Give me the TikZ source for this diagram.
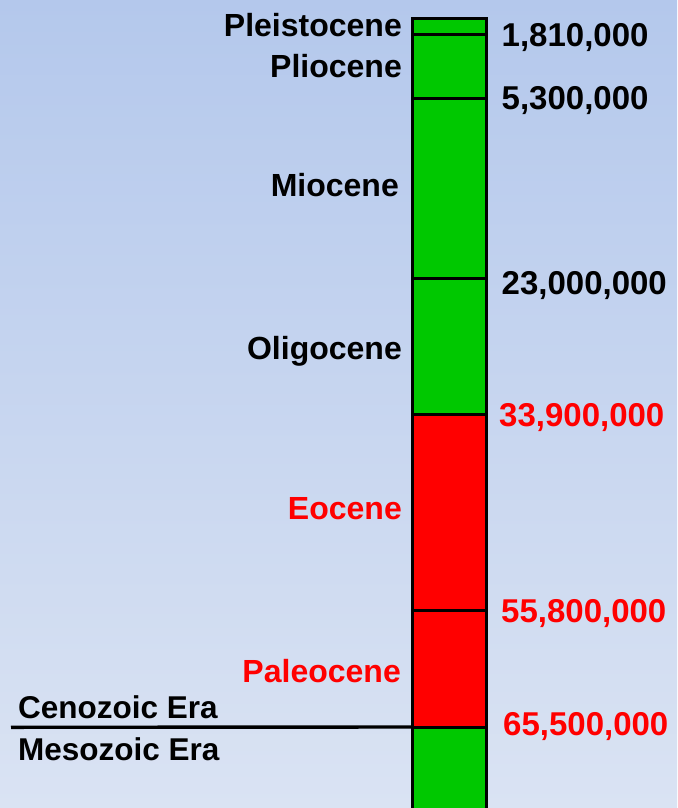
\documentclass[tikz,border=0pt]{standalone}
\usepackage{fontspec}
\setmainfont{Liberation Sans}
\definecolor{bgtop}{RGB}{180,200,236}
\definecolor{bgbot}{RGB}{218,227,243}
\definecolor{epgreen}{RGB}{0,200,0}
\definecolor{epred}{RGB}{255,0,0}
\tikzset{
  eplabel/.style={anchor=base east,inner sep=0pt,font=\fontsize{32}{32}\selectfont\bfseries},
  numlabel/.style={anchor=base west,inner sep=0pt,font=\fontsize{33}{33}\selectfont\bfseries},
  eralabel/.style={anchor=base west,inner sep=0pt,font=\fontsize{31.5}{31.5}\selectfont\bfseries},
  boundary/.style={line width=3pt,black},
  colborder/.style={line width=3.6pt,black}
}
\begin{document}
\begin{tikzpicture}[x=1pt,y=-1pt]
\useasboundingbox (0,0) rectangle (677,808);
\shade[top color=bgtop,bottom color=bgbot] (0,0) rectangle (677,808);
\begin{scope}
\clip (0,0) rectangle (677,808);
% column fills
\fill[epgreen] (412.5,18.5) rectangle (486.5,414);
\fill[epred] (412.5,414) rectangle (486.5,727);
\fill[epgreen] (412.5,727) rectangle (486.5,830);
% boundaries
\coordinate (b1l) at (412.5,35);    \coordinate (b1r) at (486.5,35);
\coordinate (b2l) at (412.5,98.3);  \coordinate (b2r) at (486.5,98.3);
\coordinate (b3l) at (412.5,278.3); \coordinate (b3r) at (486.5,278.3);
\coordinate (b4l) at (412.5,414);   \coordinate (b4r) at (486.5,414);
\coordinate (b5l) at (412.5,610);   \coordinate (b5r) at (486.5,610);
\coordinate (b6l) at (412.5,727);   \coordinate (b6r) at (486.5,727);
\draw[boundary] (b1l) -- (b1r);
\draw[boundary] (b2l) -- (b2r);
\draw[boundary] (b3l) -- (b3r);
\draw[boundary] (b4l) -- (b4r);
\draw[boundary] (b5l) -- (b5r);
\draw[boundary] (b6l) -- (b6r);
% era line
\coordinate (eraL) at (11,727.3);
\draw[line width=3.4pt,black] (eraL) -- (b6l);
% column border
\draw[colborder] (412.5,830) -- (412.5,18.5) -- (486.5,18.5) -- (486.5,830);
\end{scope}
% epoch labels
\node[eplabel] (pleist) at (402,36.7) {Pleistocene};
\node[eplabel] (plio) at (402,77.7) {Pliocene};
\node[eplabel] (mio) at (399,196) {Miocene};
\node[eplabel] (oligo) at (402,359) {Oligocene};
\node[eplabel,text=epred] (eo) at (402,519) {Eocene};
\node[eplabel,text=epred] (paleo) at (401,682.7) {Paleocene};
% numbers
\node[numlabel] (n1) at (501.5,46.7) {1,810,000};
\node[numlabel] (n2) at (501.5,109) {5,300,000};
\node[numlabel] (n3) at (501.5,294) {23,000,000};
\node[numlabel,text=epred] (n4) at (499,426.7) {33,900,000};
\node[numlabel,text=epred] (n5) at (501,622.7) {55,800,000};
\node[numlabel,text=epred] (n6) at (503,735.7) {65,500,000};
% era labels
\node[eralabel] (ceno) at (18,718.3) {Cenozoic Era};
\node[eralabel] (meso) at (18,760) {Mesozoic Era};
\end{tikzpicture}
\end{document}
